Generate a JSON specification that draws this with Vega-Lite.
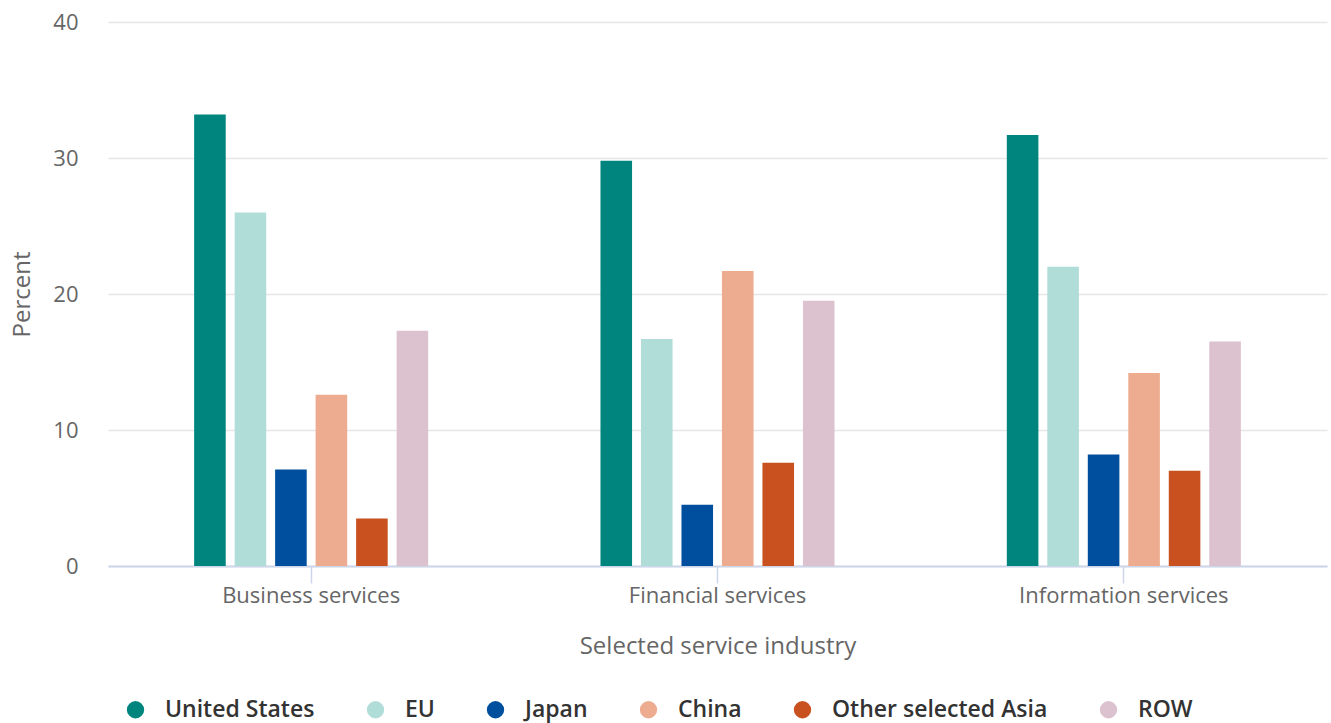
{
  "$schema": "https://vega.github.io/schema/vega-lite/v6.json",
  "autosize": {"type": "none"},
  "width": 1219,
  "height": 544,
  "padding": {"left": 108, "top": 22, "right": 4, "bottom": 157},
  "background": "white",
  "config": {"font": "Open Sans", "view": {"stroke": null}},
  "data": {"values": [
    {"industry": "Business services", "region": "United States", "value": 33.2},
    {"industry": "Business services", "region": "EU", "value": 26.0},
    {"industry": "Business services", "region": "Japan", "value": 7.1},
    {"industry": "Business services", "region": "China", "value": 12.6},
    {"industry": "Business services", "region": "Other selected Asia", "value": 3.5},
    {"industry": "Business services", "region": "ROW", "value": 17.3},
    {"industry": "Financial services", "region": "United States", "value": 29.8},
    {"industry": "Financial services", "region": "EU", "value": 16.7},
    {"industry": "Financial services", "region": "Japan", "value": 4.5},
    {"industry": "Financial services", "region": "China", "value": 21.7},
    {"industry": "Financial services", "region": "Other selected Asia", "value": 7.6},
    {"industry": "Financial services", "region": "ROW", "value": 19.5},
    {"industry": "Information services", "region": "United States", "value": 31.7},
    {"industry": "Information services", "region": "EU", "value": 22.0},
    {"industry": "Information services", "region": "Japan", "value": 8.2},
    {"industry": "Information services", "region": "China", "value": 14.2},
    {"industry": "Information services", "region": "Other selected Asia", "value": 7.0},
    {"industry": "Information services", "region": "ROW", "value": 16.5}
  ]},
  "mark": {"type": "bar"},
  "encoding": {
    "x": {
      "field": "industry", "type": "nominal",
      "scale": {"paddingInner": 0.424, "paddingOuter": 0.212},
      "axis": {
        "title": "Selected service industry",
        "titleFont": "Open Sans", "titleFontSize": 24, "titleFontWeight": "normal", "titleColor": "#666666",
        "titlePadding": 28,
        "labelAngle": 0, "labelFontSize": 22, "labelColor": "#666666", "labelPadding": 2, "labelLimit": 400,
        "domainColor": "#ccd6eb", "domainWidth": 2,
        "tickColor": "#ccd6eb", "tickSize": 17, "tickWidth": 1.5,
        "grid": false
      }
    },
    "xOffset": {
      "field": "region", "type": "nominal",
      "sort": ["United States", "EU", "Japan", "China", "Other selected Asia", "ROW"],
      "scale": {"paddingInner": 0.22, "paddingOuter": 0}
    },
    "y": {
      "field": "value", "type": "quantitative",
      "scale": {"domain": [0, 40], "nice": false},
      "axis": {
        "title": "Percent", "titleFontSize": 24, "titleFontWeight": "normal", "titleColor": "#666666",
        "titlePadding": 18,
        "values": [0, 10, 20, 30, 40],
        "labelFontSize": 22, "labelColor": "#666666", "labelPadding": 30,
        "domain": false, "ticks": false,
        "gridColor": "#e6e6e6", "gridWidth": 1.5
      }
    },
    "color": {
      "field": "region", "type": "nominal",
      "sort": ["United States", "EU", "Japan", "China", "Other selected Asia", "ROW"],
      "scale": {
        "domain": ["United States", "EU", "Japan", "China", "Other selected Asia", "ROW"],
        "range": ["#00857e", "#b0ddd8", "#004f9e", "#edac90", "#c8511f", "#dcc2cf"]
      },
      "legend": {
        "title": null, "orient": "none", "direction": "horizontal",
        "legendX": 16, "legendY": 676,
        "symbolType": "circle", "symbolSize": 300, "symbolStrokeWidth": 0,
        "labelFontSize": 23, "labelColor": "#333333", "labelFontWeight": 600, "labelLimit": 400,
        "labelOffset": 18, "columnPadding": 49
      }
    }
  }
}
